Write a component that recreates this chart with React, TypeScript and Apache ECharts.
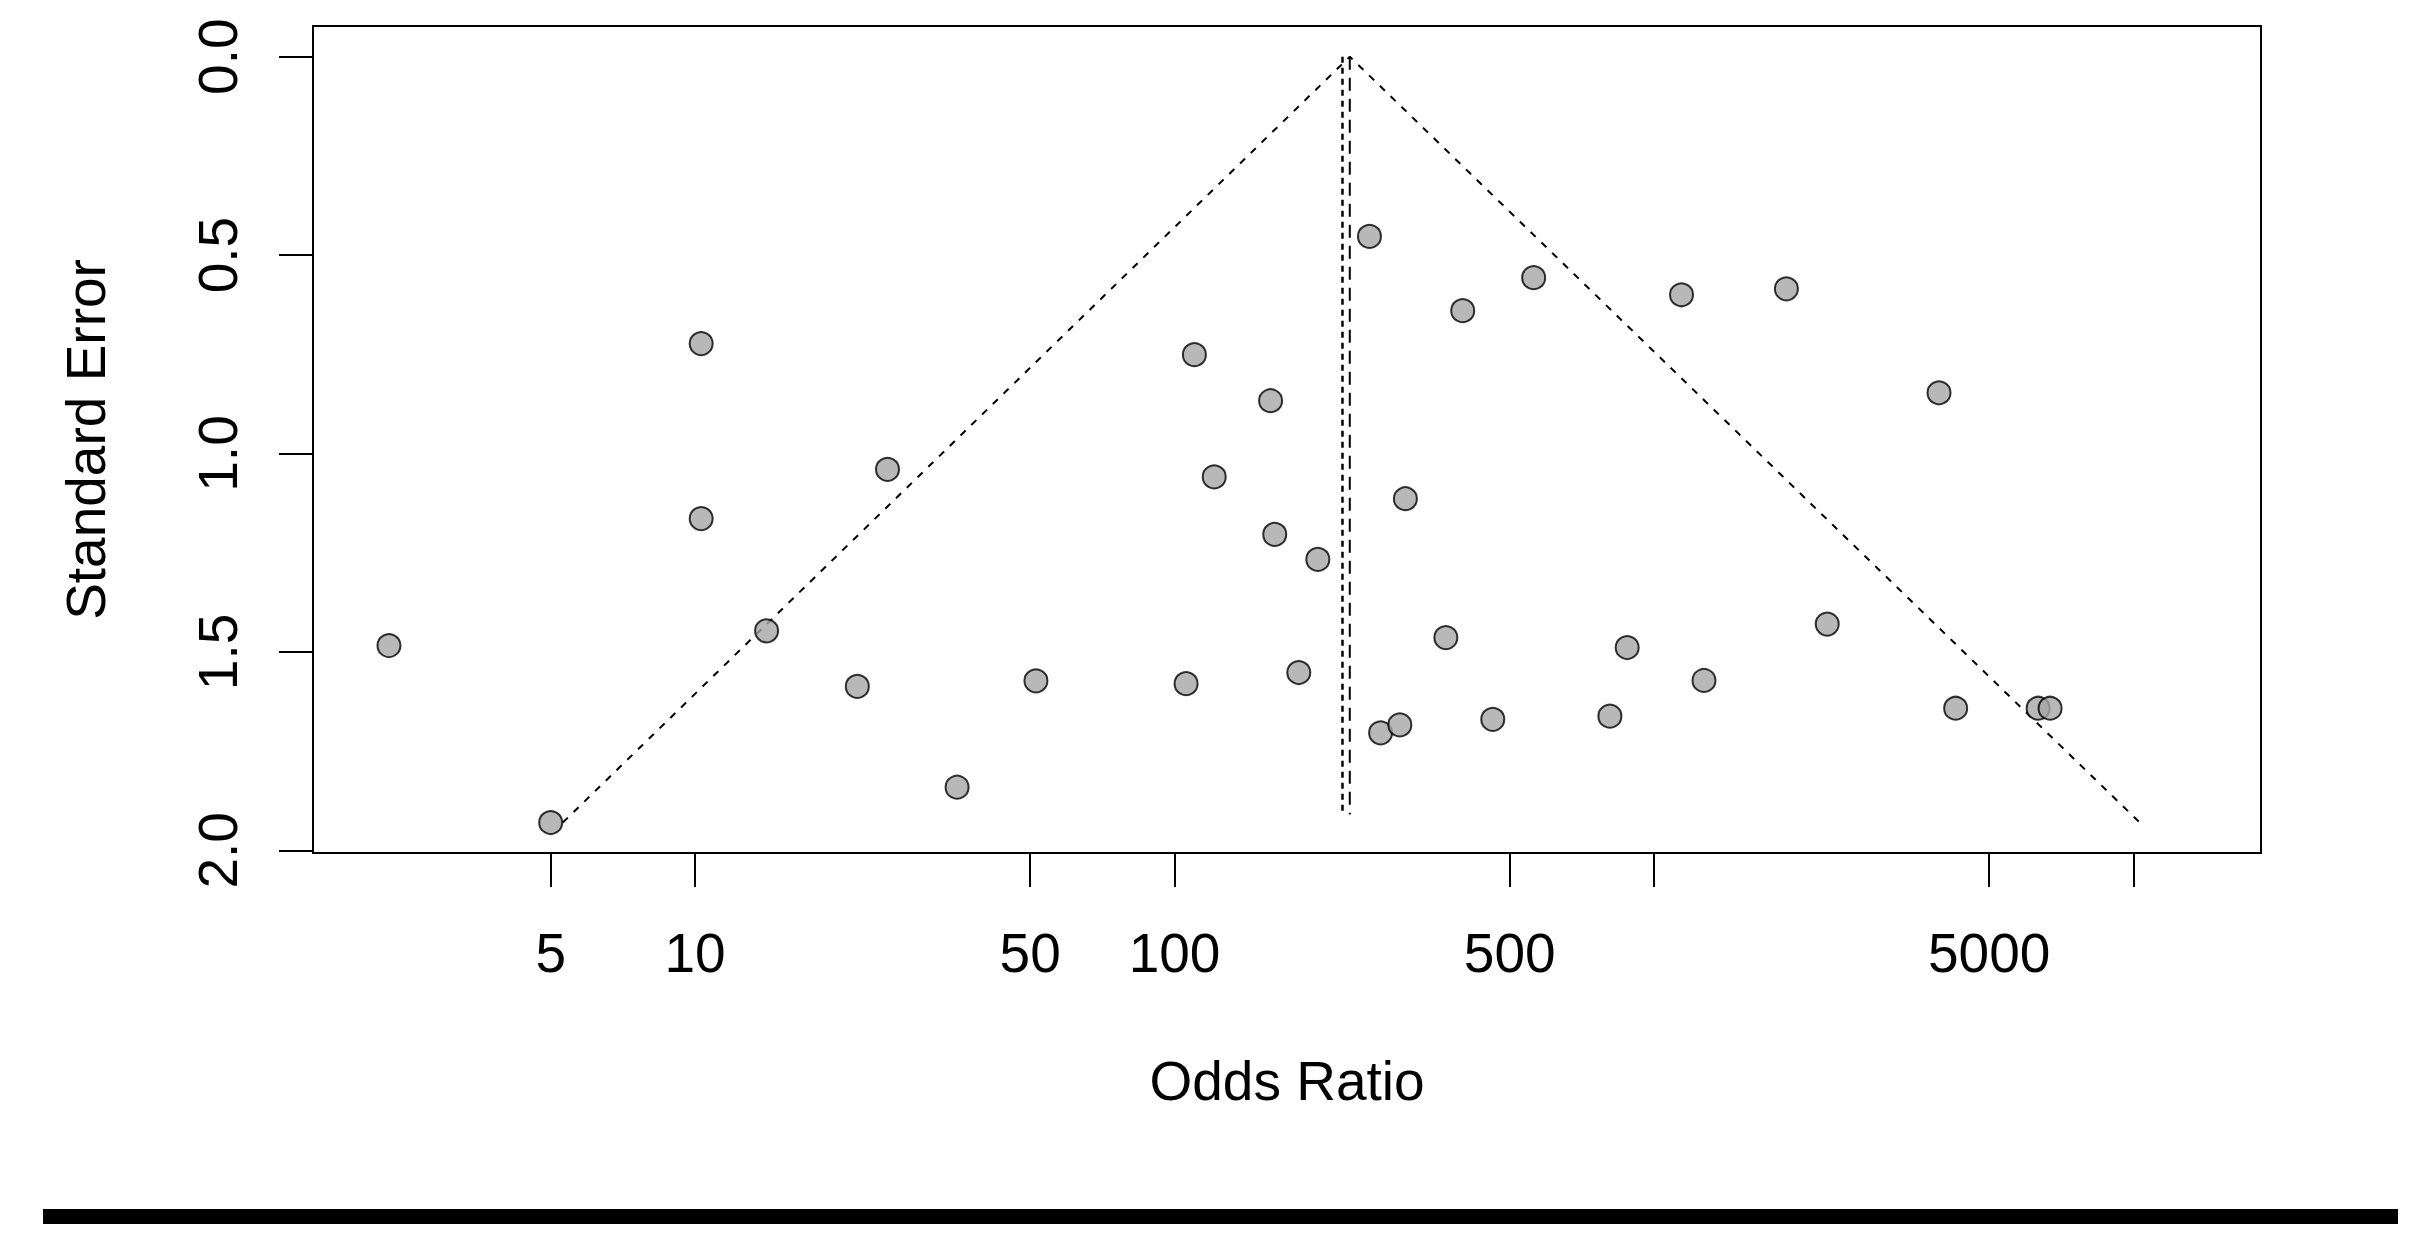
import React, { useEffect, useRef } from "react";
import * as echarts from "echarts";

// Study odds ratios and their standard errors
const oddsRatios = [
  2.3, 5.0, 10.3, 10.3, 14.1, 21.8, 25.2, 35.2, 51.4, 105.7, 110, 121, 158.6,
  161.8, 181.6, 199, 255, 269, 295, 303, 368, 399, 461, 561, 809, 879, 1141,
  1271, 1888, 2297, 3929, 4256, 6324, 6698,
];
const standardErrors = [
  1.484, 1.93, 0.723, 1.164, 1.447, 1.587, 1.04, 1.841, 1.573, 1.58, 0.751,
  1.059, 0.867, 1.204, 1.552, 1.267, 0.453, 1.704, 1.684, 1.114, 1.464, 0.64,
  1.67, 0.557, 1.662, 1.489, 0.6, 1.572, 0.585, 1.43, 0.847, 1.642, 1.642,
  1.642,
];

// Funnel outline (pseudo 95% CI limits)
const funnelOR = [5.3, 232, 10300];
const funnelSE = [1.93, 0, 1.93];

// Summary estimates (vertical reference lines)
const fixedEstimate = 232;
const randomEstimate = 224;
const refLineSE = [0, 1.91];

// Axis ticks
const xTickValues = [5, 10, 50, 100, 500, 1000, 5000, 10000];
const xLabelValues = [5, 10, 50, 100, 500, 5000];
const yTickValues = [0, 0.5, 1.0, 1.5, 2.0];

const FONT = "'Liberation Sans', Arial, sans-serif";

export default function App() {
  const ref = useRef<HTMLDivElement>(null);

  useEffect(() => {
    document.body.style.margin = "0";
    if (!ref.current) return;
    const chart = echarts.init(ref.current, undefined, { renderer: "svg" });

    const points = oddsRatios.map((or, i) => [Math.log10(or), standardErrors[i]]);
    const funnel = funnelOR.map((or, i) => [Math.log10(or), funnelSE[i]]);
    const fixedLine = refLineSE.map((se) => [Math.log10(fixedEstimate), se]);
    const randomLine = refLineSE.map((se) => [Math.log10(randomEstimate), se]);

    const textStyle = { color: "#000", fontSize: 55, fontFamily: FONT };

    chart.setOption({
      animation: false,
      backgroundColor: "#fff",
      grid: {
        left: 313,
        top: 26,
        width: 1948,
        height: 827,
        show: true,
        borderColor: "#000",
        borderWidth: 2,
        backgroundColor: "transparent",
      },
      xAxis: {
        type: "value",
        position: "bottom",
        min: 0.2033,
        max: 4.2658,
        splitLine: { show: false },
        axisLine: { show: true, onZero: false, lineStyle: { color: "#000", width: 2 } },
        axisTick: {
          show: true,
          length: 34,
          lineStyle: { color: "#000", width: 2 },
          customValues: xTickValues.map((v) => Math.log10(v)),
        },
        axisLabel: {
          ...textStyle,
          margin: 72,
          customValues: xLabelValues.map((v) => Math.log10(v)),
          formatter: (v: number) => String(Math.round(Math.pow(10, v))),
        },
        name: "Odds Ratio",
        nameLocation: "middle",
        nameGap: 200,
        nameTextStyle: textStyle,
      },
      yAxis: {
        type: "value",
        inverse: true,
        min: -0.0773,
        max: 2.0068,
        splitLine: { show: false },
        axisLine: { show: true, onZero: false, lineStyle: { color: "#000", width: 2 } },
        axisTick: {
          show: true,
          length: 34,
          lineStyle: { color: "#000", width: 2 },
          customValues: yTickValues,
        },
        axisLabel: {
          ...textStyle,
          rotate: 90,
          margin: 68,
          customValues: yTickValues,
          formatter: (v: number) => v.toFixed(1),
        },
        name: "Standard Error",
        nameLocation: "middle",
        nameGap: 200,
        nameTextStyle: textStyle,
      },
      series: [
        {
          type: "line",
          data: funnel,
          symbol: "none",
          lineStyle: { color: "#000", width: 2, type: [7, 8] },
          z: 2,
        },
        {
          type: "line",
          data: fixedLine,
          symbol: "none",
          lineStyle: { color: "#000", width: 2, type: [13, 8] },
          z: 2,
        },
        {
          type: "line",
          data: randomLine,
          symbol: "none",
          lineStyle: { color: "#000", width: 2.5, type: [6, 5] },
          z: 2,
        },
        {
          type: "scatter",
          data: points,
          symbol: "circle",
          symbolSize: 23,
          itemStyle: { color: "#a6a6a6", borderColor: "#000", borderWidth: 2 },
          z: 5,
        },
      ],
      graphic: [
        {
          type: "rect",
          shape: { x: 43, y: 1209, width: 2355, height: 15 },
          style: { fill: "#000" },
        },
      ],
    });

    return () => {
      chart.dispose();
    };
  }, []);

  return <div ref={ref} style={{ width: "2428px", height: "1255px" }} />;
}
